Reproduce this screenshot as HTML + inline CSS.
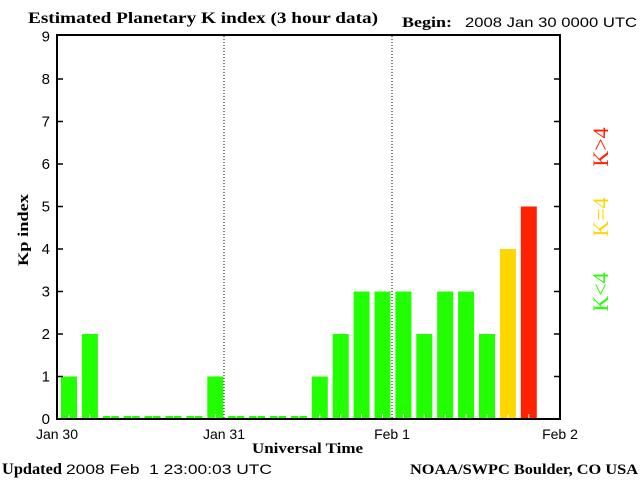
<!DOCTYPE html>
<html><head><style>
body{margin:0;background:#fff;}
</style></head><body>
<svg width="640" height="480" xmlns="http://www.w3.org/2000/svg" style="display:block">
<rect width="640" height="480" fill="#fff"/>
<text x="28" y="23" font-family="Liberation Serif, serif" font-weight="bold" font-size="16" textLength="350" lengthAdjust="spacingAndGlyphs">Estimated Planetary K index (3 hour data)</text>
<text x="402" y="27" font-family="Liberation Serif, serif" font-weight="bold" font-size="15" textLength="50" lengthAdjust="spacingAndGlyphs">Begin:</text>
<text x="465" y="27" font-family="Liberation Sans, sans-serif" font-size="14" textLength="172" lengthAdjust="spacingAndGlyphs">2008 Jan 30 0000 UTC</text>
<g id="bars"></g>
<line x1="224" y1="36" x2="224" y2="419" stroke="#000" stroke-dasharray="1,2"/>
<line x1="392" y1="36" x2="392" y2="419" stroke="#000" stroke-dasharray="1,2"/>
<path d="M57 35 H560 V419 H57 Z" fill="none" stroke="#000" stroke-width="2"/>
<g id="ticks" stroke="#000" stroke-width="1.5"></g>
<g font-family="Liberation Sans, sans-serif" font-size="15" text-anchor="end" id="yl"></g>
<text transform="translate(28,230) rotate(-90)" text-anchor="middle" font-family="Liberation Serif, serif" font-weight="bold" font-size="15" textLength="72" lengthAdjust="spacingAndGlyphs">Kp index</text>
<g font-family="Liberation Sans, sans-serif" font-size="14" text-anchor="middle">
<text x="57" y="439">Jan 30</text><text x="224" y="439">Jan 31</text><text x="392" y="439">Feb 1</text><text x="560" y="439">Feb 2</text>
</g>
<text x="252" y="453" font-family="Liberation Serif, serif" font-weight="bold" font-size="15" textLength="111" lengthAdjust="spacingAndGlyphs">Universal Time</text>
<text x="2" y="474" font-family="Liberation Serif, serif" font-weight="bold" font-size="16" textLength="60" lengthAdjust="spacingAndGlyphs">Updated</text>
<text x="66" y="474" font-family="Liberation Sans, sans-serif" font-size="14" textLength="206" lengthAdjust="spacingAndGlyphs" xml:space="preserve">2008 Feb  1 23:00:03 UTC</text>
<text x="410" y="474" font-family="Liberation Serif, serif" font-weight="bold" font-size="15" textLength="228" lengthAdjust="spacingAndGlyphs">NOAA/SWPC Boulder, CO USA</text>
<g font-family="Liberation Serif, serif" font-size="22">
<text transform="translate(608,147) rotate(-90)" text-anchor="middle" fill="#ff2200">K&gt;4</text>
<text transform="translate(608,217) rotate(-90)" text-anchor="middle" fill="#ffd700">K=4</text>
<text transform="translate(608,292) rotate(-90)" text-anchor="middle" fill="#22ff00">K&lt;4</text>
</g>
</svg>
<script>
var ns="http://www.w3.org/2000/svg";
var d=[1,2,0,0,0,0,0,1, 0,0,0,0,1,2,3,3, 3,2,3,3,2,4,5];
var g=document.getElementById("bars");
function el(n,a,p){var e=document.createElementNS(ns,n);for(var k in a)e.setAttribute(k,a[k]);(p||g).appendChild(e);return e;}
d.forEach(function(v,i){
 var x=57+20.9*i+4, c=v>4?"#ff2200":v==4?"#ffd700":"#22ff00";
 var h=v==0?3:v*42.5;
 el("rect",{x:x,y:419-h,width:16,height:h,fill:c});
 el("rect",{x:x+7.5,y:v==0?415:414,width:1,height:5,fill:"#fff"});
});
var t=document.getElementById("ticks"),yl=document.getElementById("yl");
for(var k=0;k<=9;k++){var y=419-42.5*k;
 if(k>0&&k<9){el("line",{x1:57,y1:y,x2:63,y2:y},t);el("line",{x1:554,y1:y,x2:560,y2:y},t);}
 var tx=el("text",{x:50,y:y+5},yl);tx.textContent=k;}
</script>
</body></html>
